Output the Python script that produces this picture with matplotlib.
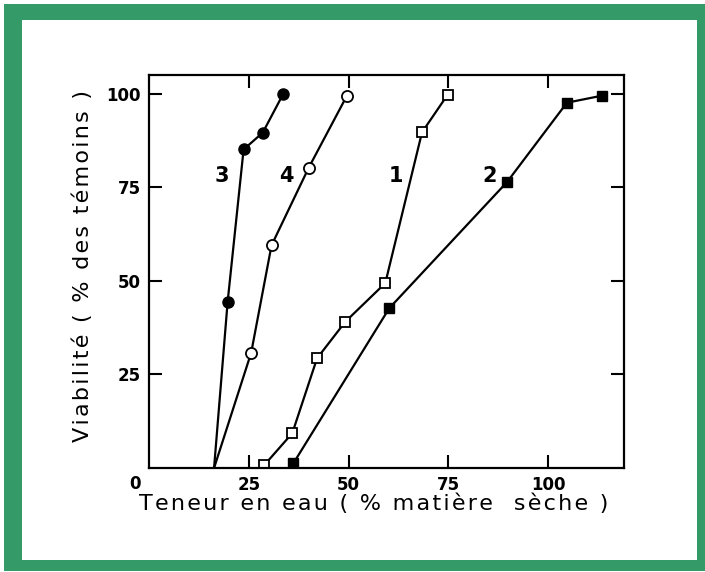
import matplotlib
matplotlib.use('Agg')
import matplotlib.pyplot as plt
from matplotlib.patches import Rectangle

# courbe 1 : carres vides
x1 = [28.9, 35.9, 42.1, 49.2, 59.2, 68.4, 74.8]
y1 = [0.8, 9.3, 29.3, 39.1, 49.4, 89.7, 99.7]
# courbe 2 : carres pleins
x2 = [36.2, 60.2, 89.7, 104.7, 113.6]
y2 = [1.3, 42.7, 76.4, 97.6, 99.5]
# courbe 3 : cercles pleins (+ origine commune sans symbole)
x3 = [16.3, 19.7, 23.7, 28.5, 33.6]
y3 = [0.0, 44.4, 85.1, 89.6, 99.9]
# courbe 4 : cercles vides
x4 = [16.3, 25.6, 30.7, 40.0, 49.6]
y4 = [0.0, 30.8, 59.5, 80.2, 99.5]

curve_names = ['3', '4', '1', '2']
name_x = [18.2, 34.3, 61.9, 85.3]
name_y = [78, 78, 78, 78]

xticks = [25, 50, 75, 100]
yticks = [25, 50, 75, 100]

xlabel = 'Teneur en eau ( % matière  sèche )'
ylabel = 'Viabilité ( % des témoins )'


def spaced(s):
    # lettres un peu espacees comme dans la figure d'origine
    return '\u200a'.join(s)


fig = plt.figure(figsize=(7.05, 5.72), dpi=100)
green = '#349a67'
# cadre vert
fig.patches.append(Rectangle((4 / 705, 1 / 572), 701 / 705, 567 / 572,
                             transform=fig.transFigure, facecolor=green,
                             edgecolor='none', zorder=-2))
fig.patches.append(Rectangle((22 / 705, 12 / 572), 675 / 705, 540 / 572,
                             transform=fig.transFigure, facecolor='white',
                             edgecolor='none', zorder=-1))

ax = fig.add_axes([149 / 705, 104 / 572, 475 / 705, 393 / 572])
ax.set_facecolor('none')

line = dict(color='black', lw=1.6, zorder=2)
ax.plot(x1, y1, marker='s', ms=6.5, mfc='white', mec='black', mew=1.3, **line)
ax.plot(x2, y2, marker='s', ms=6.5, mfc='black', mec='black', **line)
ax.plot(x3, y3, **line)
ax.plot(x3[1:], y3[1:], 'o', ms=8, mfc='black', mec='black', zorder=3)
ax.plot(x4, y4, **line)
ax.plot(x4[1:], y4[1:], 'o', ms=8, mfc='white', mec='black', mew=1.3, zorder=3)

for n, tx, ty in zip(curve_names, name_x, name_y):
    ax.text(tx, ty, n, fontsize=15, fontweight='bold', ha='center', va='center')

ax.set_xlim(0, 119)
ax.set_ylim(0, 105)
ax.set_xticks(xticks)
ax.set_yticks(yticks)
ax.tick_params(direction='in', length=9.5, width=1.5, top=True, right=True,
               labelsize=12, pad=6)
for lab in ax.get_xticklabels() + ax.get_yticklabels():
    lab.set_fontweight('bold')
for s in ax.spines.values():
    s.set_linewidth(1.6)

ax.text(-0.03, -0.04, '0', transform=ax.transAxes, fontsize=12,
        fontweight='bold', ha='center', va='center')

fig.text(374 / 705, 1 - 504 / 572, spaced(xlabel),
         fontsize=16, ha='center', va='center')
fig.text(83 / 705, 1 - 266 / 572, spaced(ylabel),
         fontsize=16, rotation=90, ha='center', va='center')

fig.savefig('out.png', dpi=100)
